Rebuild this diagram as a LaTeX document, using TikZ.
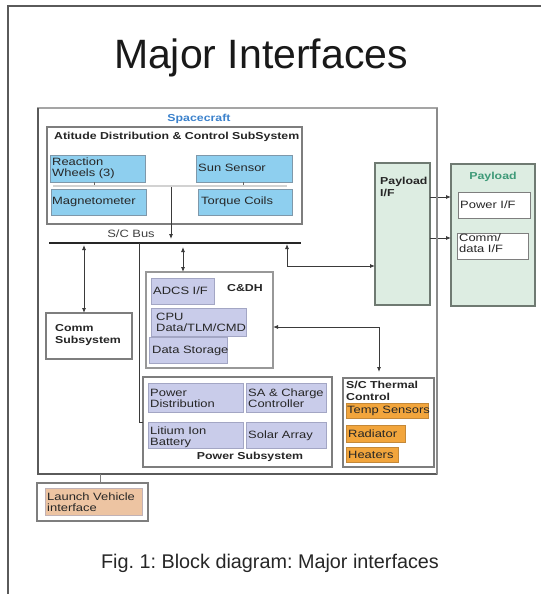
\documentclass[tikz,border=0pt]{standalone}
\usepackage{fontspec}
\setmainfont{Liberation Sans}
\newfontfamily\boxfont[FakeStretch=1.22]{Liberation Sans}
\usetikzlibrary{fit,arrows.meta}
\frenchspacing
\definecolor{frameC}{HTML}{5A5A5A}
\definecolor{edgeC}{HTML}{7E7E7E}
\definecolor{blueF}{HTML}{8ECFEF}
\definecolor{blueD}{HTML}{7F98AA}
\definecolor{lavF}{HTML}{C9CCEA}
\definecolor{lavD}{HTML}{A3A6C4}
\definecolor{orF}{HTML}{F2A53C}
\definecolor{orD}{HTML}{C48838}
\definecolor{grF}{HTML}{DDEDE2}
\definecolor{grD}{HTML}{6F7A72}
\definecolor{tanF}{HTML}{EDC4A2}
\definecolor{scBlue}{HTML}{3C82CC}
\definecolor{plTeal}{HTML}{3E9A78}
\definecolor{lineC}{HTML}{3A3A3A}
\tikzset{
  bx/.style={inner sep=0pt, outer sep=0pt},
  plainbox/.style={bx, draw=edgeC, line width=1.1pt},
  bluebox/.style={bx, draw=blueD, fill=blueF, line width=0.9pt},
  lavbox/.style={bx, draw=lavD, fill=lavF, line width=0.9pt},
  orbox/.style={bx, draw=orD, fill=orF, line width=0.9pt},
  grbox/.style={bx, draw=grD, fill=grF, line width=1.1pt},
  tanbox/.style={bx, draw=lavD!60!tanF, fill=tanF, line width=0.9pt},
  txt/.style={inner sep=0pt, align=left, font=\boxfont\fontsize{10.6}{11}\selectfont, text=black!85},
  btxt/.style={inner sep=0pt, align=left, font=\boxfont\bfseries\fontsize{10.1}{11.5}\selectfont, text=black!85},
  conn/.style={draw=lineC, line width=0.8pt},
  arr/.style={conn, -{Latex[length=5pt,width=4pt]}},
  darr/.style={conn, {Latex[length=5pt,width=4pt]}-{Latex[length=5pt,width=4pt]}},
}
\begin{document}
\begin{tikzpicture}[x=1pt,y=-1pt]
\useasboundingbox (0,0) rectangle (541,594);
% page frame
\draw[frameC, line width=1.6pt] (8,594) -- (8,6) -- (541,6);
\node[font=\fontsize{41}{44}\selectfont, text=black!90] (title) at (261,58) {Major Interfaces};
\node[font=\fontsize{19.8}{22}\selectfont, text=black!85] (caption) at (270,563) {Fig. 1: Block diagram: Major interfaces};

% spacecraft
\node[plainbox, draw=edgeC!70, fit={(38,108) (437,474)}] (sc) {};
\draw[frameC, line width=1.6pt] (sc.north west) -- (sc.south west) -- (sc.south east);
\node[btxt, text=scBlue] (sct) at (199,119) {Spacecraft};

% ADCS
\node[plainbox, fill=white, fit={(47,127) (302,224)}] (adcs) {};
\node[btxt, anchor=west] (adcst) at (54,137) {Atitude Distribution \& Control SubSystem};
\node[bluebox, fit={(50,155) (145,182)}] (rw) {};
\node[txt, anchor=west] (rwt) at (52,168.5) {Reaction\\Wheels (3)};
\node[bluebox, fit={(196,155) (292,182)}] (sun) {};
\node[txt, anchor=west] (sunt) at (198,168) {Sun Sensor};
\node[bluebox, fit={(51,189) (146,215)}] (mag) {};
\node[txt, anchor=west] (magt) at (52,202) {Magnetometer};
\node[bluebox, fit={(198,189) (292,215)}] (tq) {};
\node[txt, anchor=west] (tqt) at (201,202) {Torque Coils};
\coordinate (ibL) at (53,186);
\coordinate (ibR) at (287,186);
\draw[draw=gray, line width=0.5pt, double=gray!35, double distance=1.4pt] (ibL) -- (ibR);
\draw[conn, draw=gray!80!black] (rw.south -| 94,0) -- (94,185);
\draw[conn, draw=gray!80!black] (sun.south -| 243,0) -- (243,185);
\coordinate (adcsout) at (171,187);
\coordinate (adcsend) at (171,239);
\draw[arr] (adcsout) -- (adcsend);

% S/C bus
\coordinate (busL) at (49,243);
\coordinate (busR) at (301,243);
\draw[draw=black!85, line width=1.1pt] (busL) -- (busR);
\node[txt, text=black!75] (bust) at (131,234) {S/C Bus};

% Comm
\node[plainbox, fill=white, fit={(46,313) (132,359)}] (comm) {};
\node[btxt, anchor=west] (commt) at (55,335) {Comm\\Subsystem};
\draw[darr] (84,245) -- (comm.north -| 84,0);

% C&DH
\node[plainbox, draw=edgeC!80, fill=white, fit={(146,272) (273,368)}] (cdh) {};
\node[btxt] (cdht) at (245,288) {C\&DH};
\node[lavbox, fit={(151,278) (214,304)}] (adcsif) {};
\node[txt, anchor=west] (adcsift) at (153,291) {ADCS I/F};
\node[lavbox, fit={(151,308) (246,336)}] (cpu) {};
\node[txt, anchor=west] (cput) at (156,322) {CPU\\Data/TLM/CMD};
\node[lavbox, fit={(149,337) (227,363)}] (ds) {};
\node[txt, anchor=west] (dst) at (152,351) {Data Storage};
\draw[darr] (183,247) -- (cdh.north -| 183,0);

% Power
\node[plainbox, fill=white, fit={(143,377) (332,467)}] (pwr) {};
\node[lavbox, fit={(148,383) (243,412)}] (pd) {};
\node[txt, anchor=west] (pdt) at (150,398) {Power\\Distribution};
\node[lavbox, fit={(246,383) (326,412)}] (sa) {};
\node[txt, anchor=west] (sat) at (248,398) {SA \& Charge\\Controller};
\node[lavbox, fit={(148,422) (243,448)}] (bat) {};
\node[txt, anchor=west] (batt) at (150,437) {Litium Ion\\Battery};
\node[lavbox, fit={(246,422) (326,448)}] (sol) {};
\node[txt, anchor=west] (solt) at (248,436) {Solar Array};
\node[btxt] (pwrt) at (250,457) {Power Subsystem};
\draw[conn] (139,243) |- (pwr.west);

% Thermal
\node[plainbox, fill=white, fit={(343,378) (434,467)}] (th) {};
\node[btxt, anchor=west] (tht) at (346,391) {S/C Thermal\\Control};
\node[orbox, fit={(346,403) (428,418)}] (ts) {};
\node[txt, anchor=west] (tst) at (347,410.5) {Temp Sensors};
\node[orbox, fit={(346,425) (405,442)}] (rad) {};
\node[txt, anchor=west] (radt) at (348,433.5) {Radiator};
\node[orbox, fit={(346,447) (398,462)}] (heat) {};
\node[txt, anchor=west] (heatt) at (348,454.5) {Heaters};
\coordinate (thc) at (379,327);
\draw[darr] (cdh.east |- thc) -- (thc) -- (379,372);

% Payload I/F
\node[grbox, fit={(375,163) (430,305)}] (plif) {};
\node[btxt, anchor=north west] (plift) at (380,177) {Payload\\I/F};
\coordinate (plc) at (287,266);
\draw[darr] (287,244) -- (plc) -- (plif.west |- plc);

% Payload
\node[grbox, fit={(451,164) (535,306)}] (pl) {};
\node[btxt, text=plTeal] (plt) at (493,177) {Payload};
\node[plainbox, draw=edgeC, line width=0.9pt, fill=white, fit={(458,192) (530,218)}] (pif) {};
\node[txt, anchor=west] (pift) at (460,205) {Power I/F};
\node[plainbox, draw=edgeC, line width=0.9pt, fill=white, fit={(457,233) (528,259)}] (cif) {};
\node[txt, anchor=west] (cift) at (459,243) {Comm/\\data I/F};
\draw[arr] (plif.east |- 0,197) -- (pl.west |- 0,197);
\draw[arr] (plif.east |- 0,238) -- (pl.west |- 0,238);
% spacecraft right edge crossing
\draw[frameC!70, line width=1.2pt] (sc.north east) -- (sc.south east);

% Launch vehicle
\node[plainbox, fill=white, line width=1.2pt, fit={(37,483) (148,521)}] (lv) {};
\node[tanbox, fit={(45,488) (142,515)}] (lvi) {};
\node[txt, anchor=west] (lvt) at (47,502) {Launch Vehicle\\interface};
\draw[conn, draw=edgeC, line width=1pt] (sc.south -| 100,0) -- (lv.north -| 100,0);
\end{tikzpicture}
\end{document}
